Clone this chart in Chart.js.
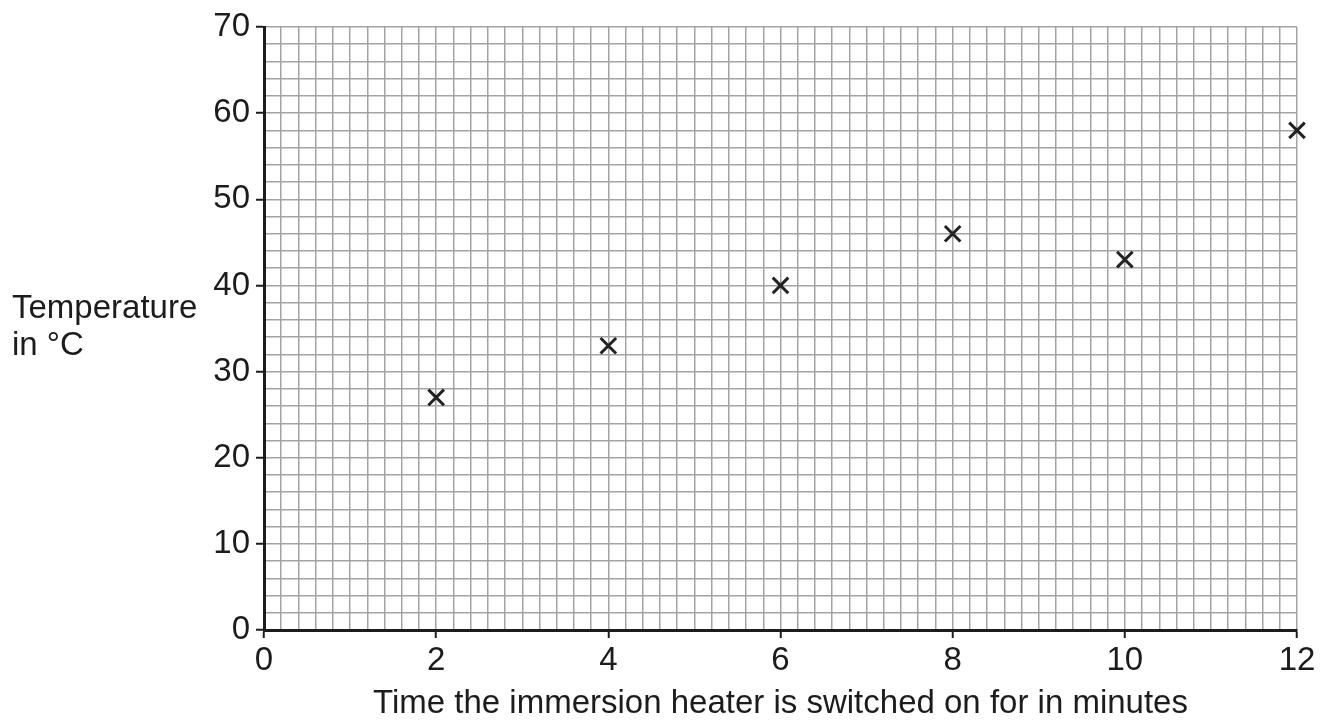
<!DOCTYPE html>
<html>
<head>
<meta charset="utf-8">
<script src="https://cdn.jsdelivr.net/npm/chart.js@4/dist/chart.umd.min.js"></script>
<style>
  body { margin: 0; background: #fff; }
  #wrap { width: 1327px; height: 720px; }
</style>
</head>
<body>
<div id="wrap"><canvas id="grafico"></canvas></div>
<script>
// dados
var minutes = [2, 4, 6, 8, 10, 12];
var temperature = [27, 33, 40, 46, 43, 58];
var xTitle = 'Time the immersion heater is switched on for in minutes';
var yTitle = ['Temperature', 'in °C'];

var fonte = '"Liberation Sans", Arial, sans-serif';
var tinta = '#1c1c1c';

function near(v, step) {
  return Math.abs(v - Math.round(v / step) * step) < 1e-6;
}

// titulo do eixo y na horizontal
var yTitlePlugin = {
  id: 'yTitle',
  afterDraw: function (chart) {
    var ctx = chart.ctx;
    ctx.save();
    ctx.fillStyle = tinta;
    ctx.font = '33px ' + fonte;
    ctx.textAlign = 'left';
    ctx.textBaseline = 'alphabetic';
    ctx.fillText(yTitle[0], 12, 318);
    ctx.fillText(yTitle[1], 12, 355);
    ctx.restore();
  }
};

const ctx = document.getElementById('grafico').getContext('2d');
const myChart = new Chart(ctx, {
  type: 'scatter',
  data: {
    datasets: [{
      data: minutes.map(function (m, i) { return { x: m, y: temperature[i] }; }),
      pointStyle: 'crossRot',
      pointRadius: 11,
      pointHoverRadius: 11,
      borderColor: '#222',
      backgroundColor: '#222',
      borderWidth: 3,
      clip: false
    }]
  },
  options: {
    responsive: true,
    maintainAspectRatio: false,
    animation: false,
    layout: { padding: { left: 0, top: 27, right: 30, bottom: 0 } },
    plugins: {
      legend: { display: false },
      tooltip: { enabled: false }
    },
    scales: {
      x: {
        type: 'linear',
        min: 0,
        max: 12,
        afterFit: function (scale) { scale.height = 90; },
        afterBuildTicks: function (scale) {
          var t = [];
          for (var i = 0; i <= 60; i++) t.push({ value: i / 5 });
          scale.ticks = t;
        },
        ticks: {
          autoSkip: false,
          maxRotation: 0,
          padding: 6,
          color: tinta,
          font: { family: fonte, size: 33, lineHeight: 1 },
          callback: function (v) { return near(v, 2) ? String(Math.round(v)) : ''; }
        },
        grid: {
          color: '#a3a3a3',
          lineWidth: 1.5,
          tickLength: 8,
          tickWidth: 2,
          tickColor: function (c) { return near(c.tick.value, 2) ? tinta : 'rgba(0,0,0,0)'; }
        },
        border: { color: tinta, width: 3 },
        title: {
          display: true,
          text: xTitle,
          color: tinta,
          font: { family: fonte, size: 33, lineHeight: 1 },
          padding: { top: 0, bottom: 0 }
        }
      },
      y: {
        min: 0,
        max: 70,
        afterFit: function (scale) { scale.width = 264; },
        afterBuildTicks: function (scale) {
          var t = [];
          for (var i = 0; i <= 35; i++) t.push({ value: i * 2 });
          scale.ticks = t;
        },
        ticks: {
          autoSkip: false,
          padding: 6,
          color: tinta,
          font: { family: fonte, size: 33 },
          callback: function (v) { return near(v, 10) ? String(Math.round(v)) : ''; }
        },
        grid: {
          color: '#a3a3a3',
          lineWidth: 1.5,
          tickLength: 8,
          tickWidth: 2,
          tickColor: function (c) { return near(c.tick.value, 10) ? tinta : 'rgba(0,0,0,0)'; }
        },
        border: { color: tinta, width: 3 }
      }
    }
  },
  plugins: [yTitlePlugin]
});
</script>
</body>
</html>
